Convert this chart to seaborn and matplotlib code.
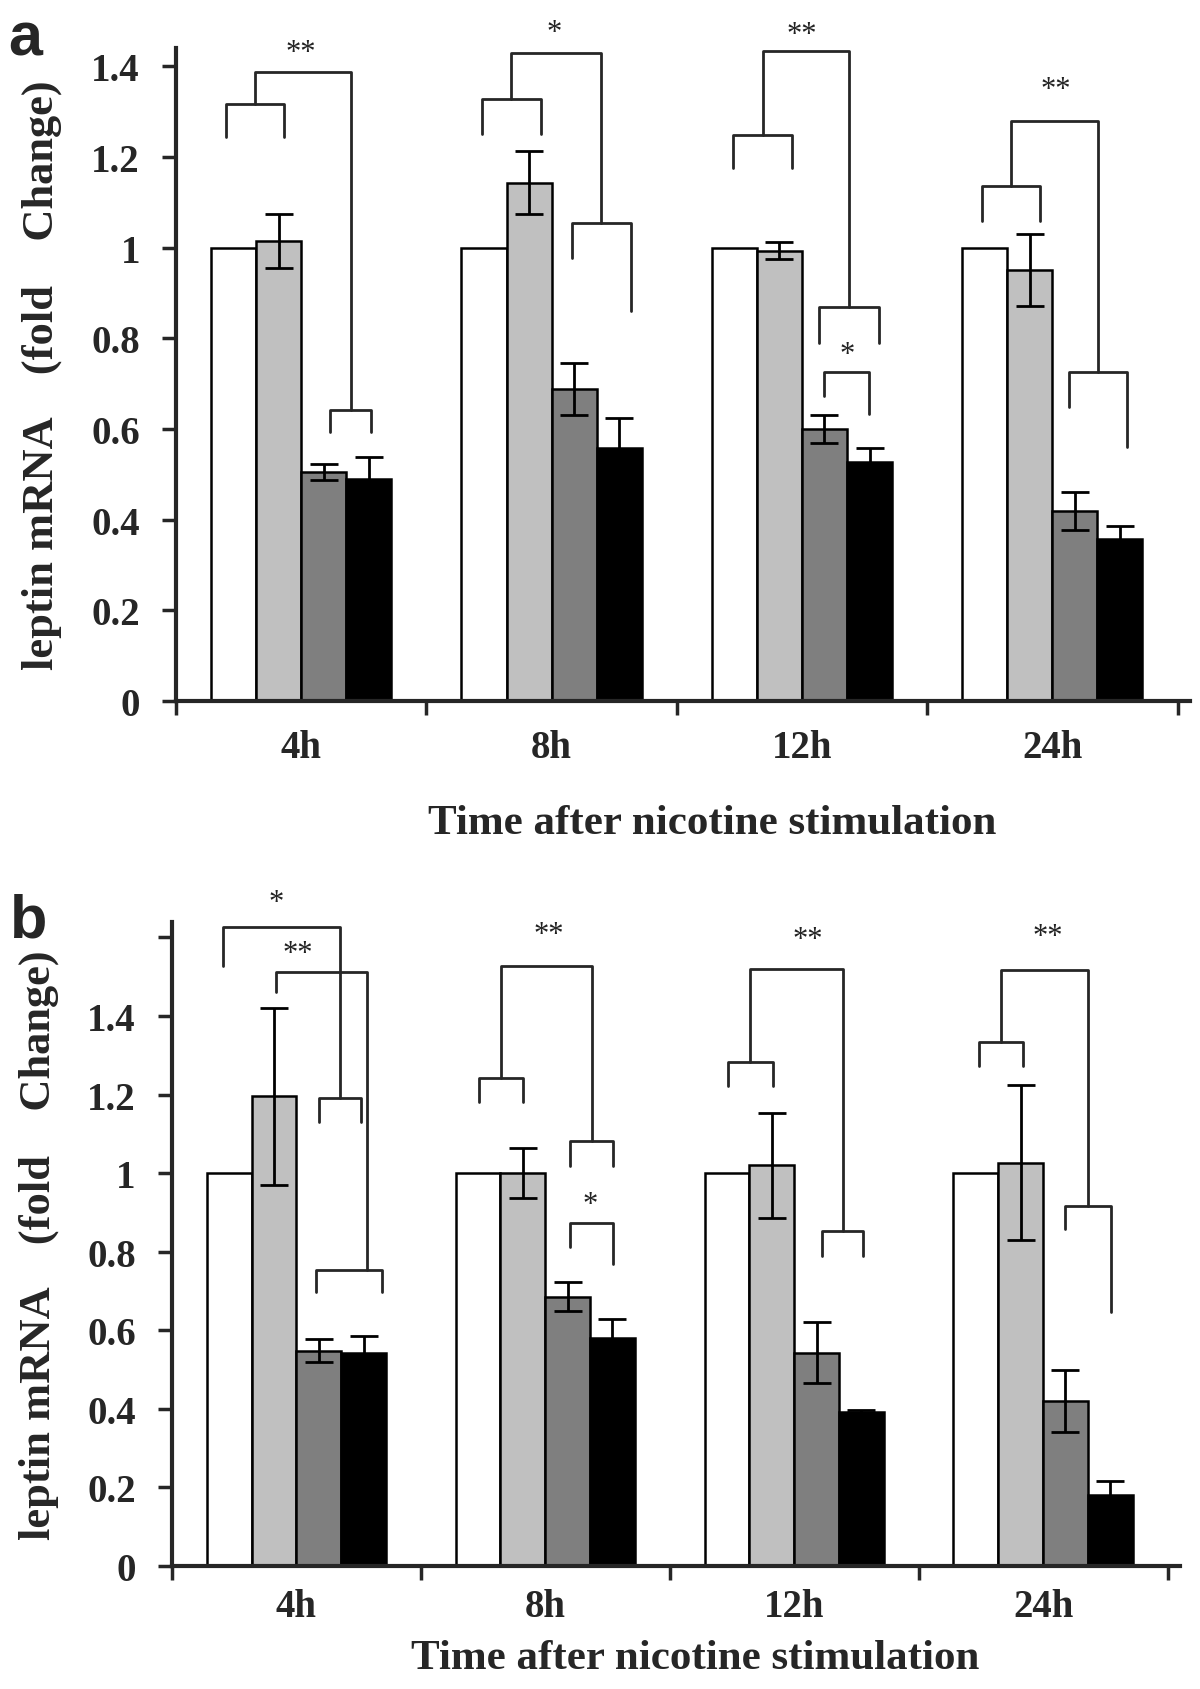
import pandas as pd
import matplotlib
matplotlib.use("Agg")
import matplotlib.pyplot as plt
import seaborn as sns

# categories
times = ["4h", "8h", "12h", "24h"]
groups = ["control", "group 2", "group 3", "group 4"]
colors = ["#ffffff", "#c0c0c0", "#7f7f7f", "#000000"]

# panel a: means and error bars (white bars have no error bar)
a_white = [1.0, 1.0, 1.0, 1.0]
a_light = [1.015, 1.143, 0.993, 0.95]
a_dark = [0.505, 0.688, 0.600, 0.42]
a_black = [0.489, 0.558, 0.527, 0.357]
a_light_err = [0.06, 0.07, 0.019, 0.08]
a_dark_err = [0.018, 0.057, 0.031, 0.042]
a_black_err = [0.05, 0.066, 0.03, 0.03]

# panel b
b_white = [1.0, 1.0, 1.0, 1.0]
b_light = [1.196, 1.0, 1.02, 1.027]
b_dark = [0.548, 0.685, 0.543, 0.42]
b_black = [0.542, 0.58, 0.392, 0.18]
b_light_err = [0.225, 0.063, 0.133, 0.198]
b_dark_err = [0.03, 0.037, 0.077, 0.08]
b_black_err = [0.043, 0.048, 0.004, 0.037]

# significance brackets: (time index, left x offset, right x offset,
#                         top y, left leg end y, right leg end y)
brackets_a = [
    (0, -0.30, -0.067, 1.316, 1.243, 1.243),
    (0, 0.115, 0.28, 0.642, 0.593, 0.593),
    (0, -0.185, 0.198, 1.386, 1.316, 0.642),
    (1, -0.278, -0.044, 1.327, 1.25, 1.25),
    (1, 0.08, 0.317, 1.054, 0.977, 0.86),
    (1, -0.163, 0.198, 1.429, 1.327, 1.054),
    (2, -0.274, -0.04, 1.248, 1.175, 1.175),
    (2, 0.067, 0.306, 0.868, 0.79, 0.79),
    (2, -0.157, 0.186, 1.433, 1.248, 0.868),
    (2, 0.087, 0.266, 0.725, 0.673, 0.633),
    (3, -0.282, -0.048, 1.135, 1.058, 1.058),
    (3, 0.067, 0.30, 0.725, 0.648, 0.56),
    (3, -0.165, 0.183, 1.279, 1.135, 0.725),
]
stars_a = [(0, 0.0, 1.43, "**"), (1, 0.012, 1.475, "*"), (2, 0.0, 1.47, "**"),
           (2, 0.18, 0.765, "*"), (3, 0.012, 1.349, "**")]

brackets_b = [
    (0, -0.296, 0.175, 1.626, 1.527, 1.191),
    (0, 0.09, 0.258, 1.191, 1.13, 1.13),
    (0, -0.081, 0.282, 1.511, 1.46, 0.753),
    (0, 0.079, 0.342, 0.753, 0.697, 0.697),
    (1, -0.267, -0.091, 1.242, 1.18, 1.18),
    (1, -0.179, 0.186, 1.527, 1.242, 1.082),
    (1, 0.10, 0.272, 1.082, 1.018, 1.018),
    (1, 0.10, 0.272, 0.873, 0.812, 0.768),
    (2, -0.265, -0.085, 1.282, 1.221, 1.221),
    (2, -0.177, 0.195, 1.519, 1.282, 0.852),
    (2, 0.111, 0.278, 0.852, 0.789, 0.789),
    (3, -0.259, -0.079, 1.333, 1.272, 1.272),
    (3, -0.171, 0.18, 1.517, 1.333, 0.916),
    (3, 0.089, 0.272, 0.916, 0.857, 0.646),
]
stars_b = [(0, -0.08, 1.69, "*"), (0, 0.004, 1.56, "**"), (1, 0.013, 1.608, "**"),
           (1, 0.18, 0.92, "*"), (2, 0.055, 1.595, "**"), (3, 0.017, 1.603, "**")]


def long_table(cols):
    rows = []
    for g, vals in zip(groups, cols):
        for t, v in zip(times, vals):
            rows.append({"time": t, "group": g, "value": v})
    return pd.DataFrame(rows)


sns.set_style("ticks")
plt.rcParams["font.family"] = ["Liberation Serif", "DejaVu Serif"]
plt.rcParams["font.weight"] = "bold"

fig = plt.figure(figsize=(12, 16.9), dpi=100)
ax_a = fig.add_axes([0.1467, 0.5846, 0.845, 0.3864])
ax_b = fig.add_axes([0.1433, 0.0728, 0.84, 0.381])


def draw_panel(ax, means, errs, brackets, stars, ymax, yticks, ytick_labels,
               xlab_x, xlab_y, xpad):
    df = long_table(means)
    sns.barplot(data=df, x="time", y="value", hue="group", order=times,
                hue_order=groups, palette=colors, width=0.72, gap=0,
                edgecolor="black", linewidth=1.8, errorbar=None, legend=False,
                saturation=1, ax=ax)
    bar_sets = list(ax.containers)
    for k, cont in enumerate(bar_sets):
        if errs[k] is None:
            continue
        xs = [p.get_x() + p.get_width() / 2 for p in cont.patches]
        ax.errorbar(xs, means[k], yerr=errs[k], fmt="none", ecolor="black",
                    elinewidth=2, capsize=10, capthick=2, zorder=3)

    for g, xl, xr, ytop, yl, yr in brackets:
        ax.plot([g + xl, g + xl, g + xr, g + xr], [yl, ytop, ytop, yr],
                color="#262626", lw=2, clip_on=False, zorder=4)
    for g, dx, y, s in stars:
        ax.text(g + dx, y, s, ha="center", va="center", fontsize=22,
                fontweight="normal", color="#222222", clip_on=False)

    ax.set_xlim(-0.5, 3.55)
    ax.set_ylim(0, ymax)
    ax.set_xticks([-0.5, 0.5, 1.5, 2.5, 3.5])
    ax.set_xticklabels([])
    ax.set_xticks(range(len(times)), minor=True)
    ax.set_xticklabels(times, minor=True)
    ax.set_yticks(yticks)
    ax.set_yticklabels(ytick_labels)
    ax.tick_params(axis="x", which="major", direction="out", length=10, width=2.5)
    ax.tick_params(axis="x", which="minor", length=0, pad=xpad, labelsize=28)
    ax.tick_params(axis="y", direction="out", length=10, width=2.5, pad=16, labelsize=28)
    sns.despine(ax=ax)
    for side in ["left", "bottom"]:
        ax.spines[side].set_linewidth(3)

    ax.set_ylabel("leptin mRNA    (fold    Change)", fontsize=32, fontweight="bold")
    ax.yaxis.set_label_coords(-0.112, 0.5)
    ax.set_xlabel("Time after nicotine stimulation", fontsize=31, fontweight="bold")
    ax.xaxis.set_label_coords(xlab_x, xlab_y)


draw_panel(ax_a, [a_white, a_light, a_dark, a_black],
           [None, a_light_err, a_dark_err, a_black_err],
           brackets_a, stars_a, 1.44,
           [0, 0.2, 0.4, 0.6, 0.8, 1.0, 1.2, 1.4],
           ["0", "0.2", "0.4", "0.6", "0.8", "1", "1.2", "1.4"], 0.529, -0.158, 20)

draw_panel(ax_b, [b_white, b_light, b_dark, b_black],
           [None, b_light_err, b_dark_err, b_black_err],
           brackets_b, stars_b, 1.639,
           [0, 0.2, 0.4, 0.6, 0.8, 1.0, 1.2, 1.4, 1.6],
           ["0", "0.2", "0.4", "0.6", "0.8", "1", "1.2", "1.4", ""], 0.519, -0.114, 16)

fig.text(0.007, 0.967, "a", fontsize=44, fontweight="bold", family="Liberation Sans")
fig.text(0.008, 0.445, "b", fontsize=44, fontweight="bold", family="Liberation Sans")

fig.savefig("out.png", dpi=100)
